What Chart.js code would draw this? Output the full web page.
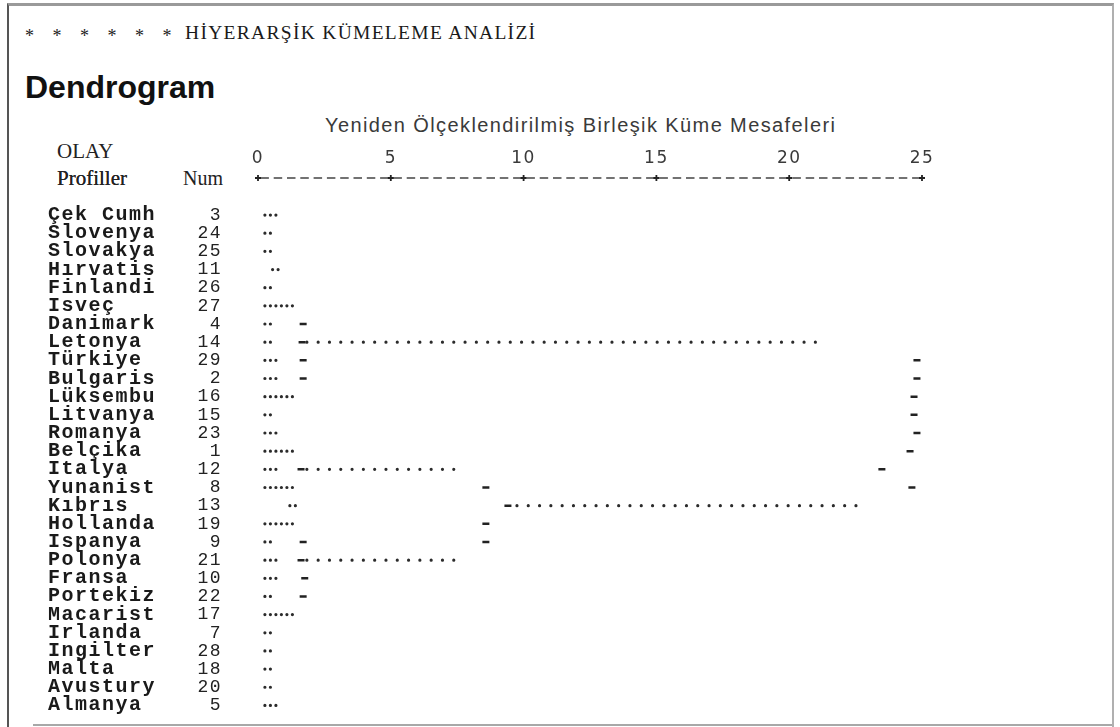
<!DOCTYPE html>
<html lang="tr">
<head>
    <meta charset="UTF-8">
    <title>Dendrogram</title>
    <script src="https://cdn.jsdelivr.net/npm/chart.js@4.4.1/dist/chart.umd.min.js"></script>
    <style>
        body {
            margin: 0;
            width: 1120px;
            height: 727px;
            background: #fff;
            position: relative;
            overflow: hidden;
            color: #1a1a1a;
        }
        .frame {
            position: absolute;
            left: 7px;
            top: 3px;
            width: 1103px;
            height: 740px;
            border-top: 3px solid #9a9a9a;
            border-left: 2px solid #555;
            border-right: 2px solid #b0b0b0;
        }
        .bottom-line {
            position: absolute;
            left: 33px;
            top: 724px;
            width: 1079px;
            height: 0;
            border-top: 2px solid #a8a8a8;
        }
        .txt {
            position: absolute;
            white-space: nowrap;
            line-height: 1;
        }
        .stars {
            left: 25px;
            top: 27px;
            font-family: 'Liberation Serif', serif;
            font-size: 18px;
            word-spacing: 14px;
            color: #222;
        }
        .header {
            left: 185px;
            top: 23px;
            font-family: 'Liberation Serif', serif;
            font-size: 19.5px;
            letter-spacing: 1.3px;
        }
        .title {
            left: 25px;
            top: 71px;
            font-family: 'Liberation Sans', Arial, sans-serif;
            font-weight: bold;
            font-size: 32px;
            color: #111;
        }
        .axis-title {
            left: 325px;
            top: 115px;
            font-family: 'Liberation Sans', Arial, sans-serif;
            font-size: 20px;
            letter-spacing: 1.4px;
            color: #3a3a3a;
        }
        .serif-lbl {
            font-family: 'Liberation Serif', serif;
            font-size: 21px;
            color: #222;
        }
        .chart-box {
            position: absolute;
            left: 40px;
            top: 110px;
            width: 1040px;
            height: 615px;
        }
    </style>
</head>
<body>
    <div class="frame"></div>
    <div class="bottom-line"></div>
    <div class="txt stars">* * * * * *</div>
    <div class="txt header">HİYERARŞİK KÜMELEME ANALİZİ</div>
    <div class="txt title">Dendrogram</div>
    <div class="txt axis-title">Yeniden Ölçeklendirilmiş Birleşik Küme Mesafeleri</div>
    <div class="txt serif-lbl" style="left:57px; top:141px;">OLAY</div>
    <div class="txt serif-lbl" style="left:57px; top:168px; text-shadow:0 0 0.6px #222;">Profiller</div>
    <div class="txt serif-lbl" style="left:183px; top:168px; font-size:20px;">Num</div>

    <div class="chart-box">
        <canvas id="dendro"></canvas>
    </div>

    <script>
        // satırlar (yukarıdan aşağı)
        const names = ['Çek Cumh', 'Slovenya', 'Slovakya', 'Hırvatis', 'Finlandi', 'Isveç', 'Danimark',
            'Letonya', 'Türkiye', 'Bulgaris', 'Lüksembu', 'Litvanya', 'Romanya', 'Belçika', 'Italya',
            'Yunanist', 'Kıbrıs', 'Hollanda', 'Ispanya', 'Polonya', 'Fransa', 'Portekiz', 'Macarist',
            'Irlanda', 'Ingilter', 'Malta', 'Avustury', 'Almanya'];
        const nums = [3, 24, 25, 11, 26, 27, 4, 14, 29, 2, 16, 15, 23, 1, 12, 8, 13, 19, 9, 21, 10, 22, 17,
            7, 28, 18, 20, 5];

        // yaprak başlangıçları (mesafe birimi)
        const stubStart = [0.26, 0.26, 0.26, 0.55, 0.26, 0.26, 0.26, 0.26, 0.26, 0.26, 0.26, 0.26, 0.26, 0.26,
            0.26, 0.26, 1.2, 0.26, 0.26, 0.26, 0.26, 0.26, 0.26, 0.26, 0.26, 0.26, 0.26, 0.26];
        const stubEnd = [0.8, 0.6, 0.6, 0.9, 0.6, 1.45, 0.6, 0.6, 0.8, 0.8, 1.45, 0.6, 0.7, 1.45,
            0.8, 1.3, 1.6, 1.45, 0.6, 0.8, 0.8, 0.6, 1.45, 0.6, 0.6, 0.6, 0.6, 0.7];

        // yatay birleşme çizgileri
        const joinRows = [8, 15, 20, 17];
        const joinFrom = [1.84, 1.84, 1.84, 9.75];
        const joinTo = [21.16, 7.49, 7.42, 22.89];

        // dikey bağlantı işaretleri
        const markRows = [7, 8, 9, 9, 10, 10, 11, 12, 13, 14, 15, 15, 16, 16, 17, 18, 19, 19, 20, 21, 22];
        const markX = [1.7, 1.66, 1.7, 24.81, 1.7, 24.81, 24.7, 24.7, 24.81, 24.55, 1.62, 23.49, 8.58, 24.62,
            9.41, 8.58, 1.7, 8.58, 1.62, 1.76, 1.7];

        const dotColor = '#2b2b2b';
        const datasets = [];

        names.forEach((n, i) => {
            datasets.push({
                data: [{x: stubStart[i], y: i + 1}, {x: stubEnd[i], y: i + 1}],
                showLine: true,
                borderColor: dotColor,
                borderWidth: 3.2,
                borderDash: [0, 5.5],
                borderCapStyle: 'round',
                pointRadius: 0
            });
        });

        joinRows.forEach((r, k) => {
            datasets.push({
                data: [{x: joinFrom[k], y: r}, {x: joinTo[k], y: r}],
                showLine: true,
                borderColor: dotColor,
                borderWidth: 3.2,
                borderDash: [0, 11.3],
                borderCapStyle: 'round',
                pointRadius: 0
            });
        });

        datasets.push({
            data: markRows.map((r, k) => ({x: markX[k], y: r})),
            pointStyle: 'line',
            pointRadius: 3.5,
            pointBorderWidth: 2.5,
            borderColor: '#222',
            backgroundColor: '#222'
        });

        // kesikli eksen çizgisi ve + işaretleri, metin aralığı
        const axisLook = {
            id: 'axisLook',
            beforeDraw(chart) {
                chart.ctx.letterSpacing = '1.5px';
            },
            afterDraw(chart) {
                const sc = chart.scales.x;
                const ctx = chart.ctx;
                const y = sc.bottom;
                ctx.save();
                ctx.strokeStyle = '#444';
                ctx.lineWidth = 1.5;
                ctx.setLineDash([8.5, 4.8]);
                ctx.lineDashOffset = -2.4;
                ctx.beginPath();
                ctx.moveTo(sc.left, y);
                ctx.lineTo(sc.right, y);
                ctx.stroke();
                ctx.setLineDash([]);
                ctx.strokeStyle = '#222';
                ctx.lineWidth = 1.8;
                sc.ticks.forEach(t => {
                    const px = sc.getPixelForValue(t.value);
                    ctx.beginPath();
                    ctx.moveTo(px - 3, y);
                    ctx.lineTo(px + 3, y);
                    ctx.moveTo(px, y - 3);
                    ctx.lineTo(px, y + 3);
                    ctx.stroke();
                });
                ctx.restore();
            }
        };

        const rowTicks = s => { s.ticks = names.map((n, i) => ({value: i + 1})); };
        const rowMin = -1.04;
        const rowMax = 28.72;

        new Chart(document.getElementById('dendro'), {
            type: 'scatter',
            data: {datasets: datasets},
            options: {
                responsive: true,
                maintainAspectRatio: false,
                animation: false,
                layout: {padding: {left: 8, right: 158, top: 0, bottom: 0}},
                plugins: {
                    legend: {display: false},
                    tooltip: {enabled: false}
                },
                scales: {
                    x: {
                        type: 'linear',
                        position: 'top',
                        min: 0,
                        max: 25,
                        grid: {display: false, drawTicks: false},
                        border: {display: false},
                        afterFit: s => { s.height = 68; },
                        ticks: {
                            stepSize: 5,
                            padding: 9,
                            color: '#3a3a3a',
                            font: {family: 'DejaVu Sans', size: 17}
                        }
                    },
                    y: {
                        type: 'linear',
                        position: 'left',
                        reverse: true,
                        min: rowMin,
                        max: rowMax,
                        weight: 2,
                        grid: {display: false, drawTicks: false},
                        border: {display: false},
                        afterBuildTicks: rowTicks,
                        afterFit: s => { s.width = 130; s.paddingTop = 0; s.paddingBottom = 0; },
                        ticks: {
                            autoSkip: false,
                            crossAlign: 'far',
                            color: '#1a1a1a',
                            font: {family: 'Liberation Mono', size: 20, weight: 'bold'},
                            callback: v => names[v - 1]
                        }
                    },
                    yNum: {
                        type: 'linear',
                        position: 'left',
                        reverse: true,
                        min: rowMin,
                        max: rowMax,
                        weight: 1,
                        grid: {display: false, drawTicks: false},
                        border: {display: false},
                        afterBuildTicks: rowTicks,
                        afterFit: s => { s.width = 80; s.paddingTop = 0; s.paddingBottom = 0; },
                        ticks: {
                            autoSkip: false,
                            padding: 36,
                            color: '#222',
                            font: {family: 'Liberation Mono', size: 18},
                            callback: v => nums[v - 1]
                        }
                    }
                }
            },
            plugins: [axisLook]
        });
    </script>
</body>
</html>
